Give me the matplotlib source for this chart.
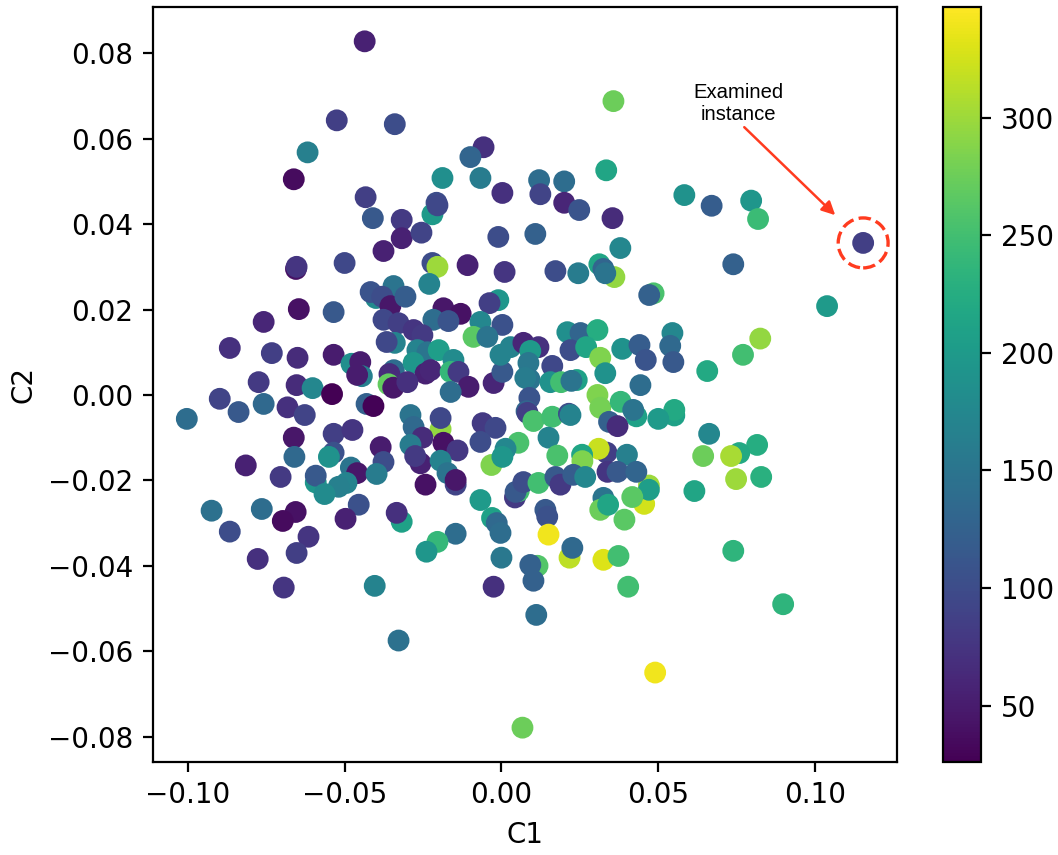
import matplotlib.pyplot as plt
from matplotlib.patches import Ellipse

# 2-D embedding of the instances (C1, C2) and the value used for colouring
c1 = [
    -0.0436, -0.0525, -0.0340, -0.0618, -0.0662, -0.0057, -0.0099, -0.0188,
    -0.0067, 0.0003, -0.0433, -0.0207, 0.0357, 0.0334, 0.0120, 0.0200,
    0.0124, 0.0200, 0.0583, 0.0670, 0.0796, 0.0818, 0.0739, 0.0485,
    0.0471, 0.1038, 0.0545, 0.0825, -0.0410, -0.0318, -0.0318, -0.0376,
    -0.0655, -0.0653, -0.0500, -0.0344, -0.0400, -0.0417, -0.0380, -0.0354,
    -0.0646, -0.0535, -0.0758, -0.0376, -0.0328, 0.0248, 0.0354, -0.0220,
    -0.0204, -0.0255, -0.0010, 0.0108, 0.0379, -0.0220, -0.0204, -0.0108,
    0.0010, 0.0172, 0.0245, 0.0312, 0.0360, 0.0325, 0.0331, -0.0230,
    -0.0306, -0.0010, -0.0038, -0.0185, -0.0130, -0.0217, -0.0169, -0.0067,
    0.0003, 0.0210, 0.0252, 0.0306, -0.0866, -0.0732, -0.0650, -0.0535,
    -0.0340, -0.0366, -0.0478, -0.0450, -0.0445, -0.0460, -0.0343, -0.0357,
    -0.0360, -0.0345, -0.0774, -0.0653, -0.0602, -0.0540, -0.0898, -0.0838,
    -0.0758, -0.0682, -0.0627, -0.1003, -0.0430, -0.0408, -0.0535, -0.0475,
    -0.0662, -0.0385, -0.0660, -0.0535, -0.0550, -0.0815, -0.0376, -0.0480,
    -0.0460, -0.0089, -0.0045, -0.0280, -0.0252, -0.0268, -0.0236, -0.0200,
    -0.0280, -0.0242, -0.0226, -0.0153, -0.0162, -0.0137, -0.0300, -0.0105,
    -0.0162, -0.0025, 0.0003, -0.0003, 0.0029, 0.0070, 0.0118, 0.0092,
    0.0086, 0.0090, 0.0076, 0.0162, 0.0156, 0.0190, 0.0240, 0.0223,
    0.0089, 0.0080, 0.0083, 0.0102, 0.0162, 0.0215, 0.0220, 0.0220,
    0.0270, 0.0315, 0.0331, 0.0385, 0.0440, 0.0460, 0.0443, 0.0306,
    0.0315, 0.0380, 0.0430, 0.0420, 0.0343, 0.0370, -0.0194, -0.0290,
    -0.0280, -0.0252, -0.0194, -0.0185, -0.0140, -0.0060, -0.0019, -0.0067,
    0.0054, 0.0013, 0.0150, 0.0335, 0.0310, 0.0400, 0.0178, 0.0257,
    0.0258, -0.0290, 0.0538, 0.0548, 0.0656, 0.0770, 0.0551, 0.0551,
    0.0500, 0.0662, 0.0815, 0.0758, 0.0732, 0.0643, 0.0748, 0.0828,
    0.0615, 0.0470, 0.0455, 0.0470, 0.0739, 0.0898, -0.0704, -0.0592,
    -0.0592, -0.0494, -0.0519, -0.0564, -0.0398, -0.0924, -0.0764, -0.0656,
    -0.0697, -0.0455, -0.0497, -0.0318, -0.0334, -0.0866, -0.0615, -0.0653,
    -0.0777, -0.0694, -0.0404, -0.0258, -0.0275, -0.0194, -0.0172, -0.0146,
    -0.0146, -0.0242, -0.0032, 0.0003, -0.0067, -0.0030, -0.0015, -0.0003,
    -0.0146, -0.0204, -0.0239, 0.0000, -0.0025, 0.0043, 0.0055, 0.0045,
    0.0070, 0.0118, 0.0172, 0.0188, 0.0229, 0.0267, 0.0338, 0.0370,
    0.0430, 0.0140, 0.0146, 0.0150, 0.0217, 0.0226, 0.0115, 0.0092,
    0.0102, 0.0325, 0.0373, 0.0325, 0.0315, 0.0340, 0.0392, 0.0417,
    0.0404, 0.0111, -0.0328, 0.0490, 0.0067,
]
c2 = [
    0.0828, 0.0643, 0.0634, 0.0568, 0.0505, 0.0580, 0.0557, 0.0508,
    0.0508, 0.0473, 0.0463, 0.0450, 0.0688, 0.0526, 0.0503, 0.0500,
    0.0470, 0.0450, 0.0468, 0.0443, 0.0455, 0.0412, 0.0306, 0.0238,
    0.0234, 0.0208, 0.0145, 0.0132, 0.0414, 0.0410, 0.0367, 0.0337,
    0.0295, 0.0300, 0.0309, 0.0255, 0.0227, 0.0241, 0.0230, 0.0208,
    0.0201, 0.0194, 0.0171, 0.0176, 0.0168, 0.0433, 0.0414, 0.0423,
    0.0444, 0.0380, 0.0370, 0.0377, 0.0344, 0.0309, 0.0300, 0.0304,
    0.0288, 0.0290, 0.0285, 0.0306, 0.0276, 0.0295, 0.0285, 0.0260,
    0.0230, 0.0222, 0.0215, 0.0203, 0.0190, 0.0176, 0.0173, 0.0171,
    0.0164, 0.0147, 0.0145, 0.0152, 0.0110, 0.0098, 0.0087, 0.0094,
    0.0122, 0.0124, 0.0073, 0.0077, 0.0044, 0.0047, 0.0058, 0.0049,
    0.0025, 0.0017, 0.0030, 0.0023, 0.0016, 0.0002, -0.0009, -0.0040,
    -0.0021, -0.0029, -0.0047, -0.0056, -0.0021, -0.0026, -0.0091, -0.0082,
    -0.0100, -0.0122, -0.0145, -0.0135, -0.0145, -0.0165, -0.0157, -0.0170,
    -0.0183, 0.0136, 0.0136, 0.0152, 0.0140, 0.0105, 0.0100, 0.0105,
    0.0075, 0.0050, 0.0058, 0.0082, 0.0054, 0.0054, 0.0030, 0.0019,
    0.0007, 0.0028, 0.0054, 0.0094, 0.0112, 0.0122, 0.0112, 0.0103,
    0.0075, 0.0036, 0.0040, 0.0068, 0.0030, 0.0030, 0.0035, 0.0033,
    -0.0007, -0.0038, -0.0042, -0.0061, -0.0051, -0.0044, -0.0047, 0.0105,
    0.0112, 0.0087, 0.0051, 0.0108, 0.0117, 0.0082, 0.0023, 0.0000,
    -0.0030, -0.0016, -0.0050, -0.0035, -0.0063, -0.0073, -0.0080, -0.0047,
    -0.0075, -0.0100, -0.0054, -0.0112, -0.0130, -0.0066, -0.0077, -0.0110,
    -0.0112, -0.0126, -0.0100, -0.0135, -0.0126, -0.0140, -0.0142, -0.0140,
    -0.0155, -0.0117, 0.0115, 0.0077, 0.0056, 0.0094, -0.0048, -0.0035,
    -0.0056, -0.0091, -0.0117, -0.0136, -0.0143, -0.0143, -0.0197, -0.0192,
    -0.0225, -0.0212, -0.0255, -0.0222, -0.0365, -0.0490, -0.0192, -0.0205,
    -0.0189, -0.0206, -0.0215, -0.0232, -0.0185, -0.0271, -0.0267, -0.0274,
    -0.0295, -0.0257, -0.0290, -0.0297, -0.0276, -0.0320, -0.0332, -0.0370,
    -0.0384, -0.0451, -0.0447, -0.0160, -0.0143, -0.0154, -0.0183, -0.0210,
    -0.0199, -0.0210, -0.0164, -0.0145, -0.0246, -0.0288, -0.0300, -0.0323,
    -0.0325, -0.0344, -0.0367, -0.0381, -0.0449, -0.0240, -0.0225, -0.0227,
    -0.0204, -0.0206, -0.0192, -0.0210, -0.0187, -0.0192, -0.0180, -0.0180,
    -0.0180, -0.0269, -0.0285, -0.0327, -0.0381, -0.0358, -0.0400, -0.0398,
    -0.0435, -0.0386, -0.0377, -0.0241, -0.0269, -0.0257, -0.0292, -0.0239,
    -0.0449, -0.0515, -0.0575, -0.0650, -0.0779,
]
value = [
    55, 85, 100, 165, 35, 70, 130, 185,
    160, 70, 85, 100, 275, 215, 140, 140,
    90, 60, 190, 120, 195, 245, 125, 255,
    125, 200, 175, 295, 115, 80, 55, 55,
    40, 75, 95, 150, 180, 110, 100, 45,
    40, 115, 60, 95, 85, 110, 65, 200,
    95, 90, 100, 125, 175, 100, 300, 55,
    75, 100, 160, 215, 295, 130, 150, 170,
    120, 195, 85, 45, 40, 140, 110, 175,
    105, 185, 130, 225, 70, 85, 65, 50,
    170, 95, 185, 50, 165, 50, 140, 65,
    270, 45, 80, 65, 175, 25, 90, 115,
    135, 70, 90, 140, 125, 28, 85, 75,
    45, 50, 135, 105, 190, 55, 100, 150,
    45, 265, 150, 75, 80, 170, 150, 205,
    195, 55, 60, 180, 240, 80, 70, 50,
    140, 60, 115, 170, 170, 60, 70, 200,
    155, 150, 160, 95, 190, 250, 210, 150,
    110, 130, 85, 255, 250, 100, 170, 100,
    215, 285, 190, 190, 120, 110, 140, 285,
    280, 240, 210, 150, 125, 65, 295, 150,
    135, 65, 95, 40, 78, 80, 95, 100,
    255, 175, 170, 85, 320, 165, 255, 215,
    285, 160, 135, 115, 220, 250, 210, 220,
    200, 175, 225, 220, 305, 275, 300, 230,
    215, 300, 325, 205, 235, 235, 80, 195,
    115, 170, 165, 180, 160, 145, 140, 40,
    35, 105, 55, 210, 70, 100, 75, 85,
    70, 75, 170, 55, 80, 170, 150, 90,
    45, 40, 285, 195, 200, 210, 135, 140,
    140, 240, 195, 155, 70, 80, 250, 115,
    100, 250, 115, 80, 120, 175, 75, 115,
    130, 115, 105, 340, 315, 135, 260, 125,
    125, 330, 250, 150, 275, 215, 265, 265,
    250, 140, 145, 340, 275,
]

# the highlighted instance
examined_c1 = 0.1153
examined_c2 = 0.0356
examined_value = 85

fig = plt.figure(figsize=(1058 / 200, 855 / 200), dpi=200)
ax = fig.add_axes([0.1446, 0.1088, 0.7032, 0.883])
cax = fig.add_axes([0.891, 0.1088, 0.0365, 0.883])

sc = ax.scatter(c1 + [examined_c1], c2 + [examined_c2], c=value + [examined_value],
                cmap='viridis', vmin=26, vmax=347, s=47)
ax.autoscale_view()
xlim = ax.get_xlim()
ylim = ax.get_ylim()

# dashed circle around the examined instance + arrow and label
ax.add_patch(Ellipse((examined_c1, examined_c2), width=0.0159, height=0.0117,
                     fill=False, edgecolor='#ff3b1f', linestyle='--', linewidth=1.2))
ax.annotate('', xy=(0.1064, 0.0421), xytext=(0.0774, 0.0627),
            arrowprops=dict(arrowstyle='-|>', color='#ff3b1f', lw=0.9,
                            mutation_scale=10, shrinkA=0, shrinkB=0))
ax.text(0.0755, 0.0683, 'Examined\ninstance', ha='center', va='center',
        fontsize=7.3, family=['Liberation Sans', 'DejaVu Sans'])
ax.set_xlim(xlim)
ax.set_ylim(ylim)

ax.set_xlabel('C1')
ax.set_ylabel('C2')

fig.colorbar(sc, cax=cax)

fig.savefig('out.png', dpi=200)
